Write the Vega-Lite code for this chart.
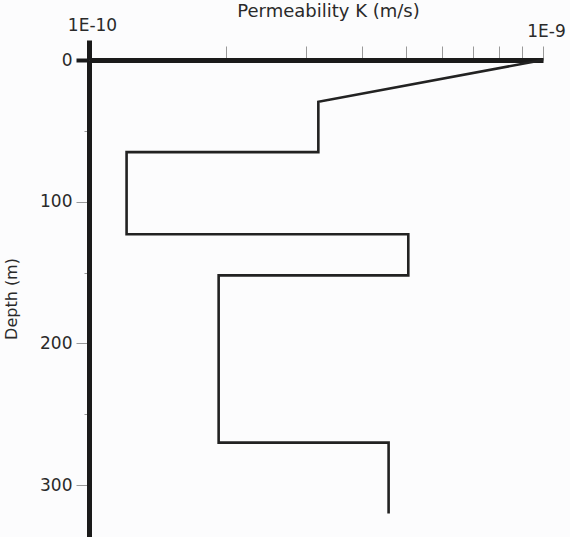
{
  "$schema": "https://vega.github.io/schema/vega-lite/v6.json",
  "autosize": "none",
  "width": 454,
  "height": 477,
  "padding": {"left": 89, "top": 60, "right": 27, "bottom": 0},
  "background": "#fcfcfd",
  "config": {"view": {"stroke": null}, "font": "DejaVu Sans"},
  "data": {
    "values": [
      {"step": 1, "K": 1e-9, "depth": 0},
      {"step": 2, "K": 3.2e-10, "depth": 29.5},
      {"step": 3, "K": 3.2e-10, "depth": 65},
      {"step": 4, "K": 1.21e-10, "depth": 65},
      {"step": 5, "K": 1.21e-10, "depth": 123},
      {"step": 6, "K": 5.05e-10, "depth": 123},
      {"step": 7, "K": 5.05e-10, "depth": 152},
      {"step": 8, "K": 1.93e-10, "depth": 152},
      {"step": 9, "K": 1.93e-10, "depth": 270},
      {"step": 10, "K": 4.57e-10, "depth": 270},
      {"step": 11, "K": 4.57e-10, "depth": 320}
    ]
  },
  "mark": {"type": "line", "color": "#222222", "strokeWidth": 2.6, "strokeJoin": "miter", "clip": false},
  "encoding": {
    "order": {"field": "step", "type": "quantitative"},
    "x": {
      "field": "K",
      "type": "quantitative",
      "scale": {"type": "log", "domain": [1e-10, 1e-9], "nice": false},
      "axis": {
        "orient": "top",
        "title": "Permeability K (m/s)",
        "titleFontSize": 18,
        "titleFontWeight": "normal",
        "titleColor": "#2a2a2a",
        "titleX": 239,
        "titleY": -44,
        "titleAlign": "center",
        "titleBaseline": "alphabetic",
        "values": [1e-10, 2e-10, 3e-10, 4e-10, 5e-10, 6e-10, 7e-10, 8e-10, 9e-10, 1e-9],
        "labelExpr": "datum.value < 1.5e-10 ? '1E-10' : (datum.value > 9.5e-10 ? '1E-9' : '')",
        "labelFontSize": 17,
        "labelColor": "#2a2a2a",
        "labelPadding": 6,
        "labelOffset": 3,
        "labelFlush": false,
        "grid": false,
        "domainWidth": 5,
        "domainColor": "#1a1a1a",
        "tickSize": {"condition": {"test": "datum.value < 1.5e-10", "value": 20}, "value": 14},
        "tickWidth": {"condition": {"test": "datum.value < 1.5e-10", "value": 5}, "value": 1},
        "tickColor": {"condition": {"test": "datum.value < 1.5e-10", "value": "#1a1a1a"}, "value": "#999999"}
      }
    },
    "y": {
      "field": "depth",
      "type": "quantitative",
      "scale": {"domain": [0, 336.6], "reverse": true, "nice": false},
      "axis": {
        "title": "Depth (m)",
        "titleFontSize": 16,
        "titleFontWeight": "normal",
        "titleColor": "#2a2a2a",
        "titleX": -78,
        "titleBaseline": "middle",
        "values": [0, 50, 100, 150, 200, 250, 300],
        "labelExpr": "datum.value % 100 === 0 ? datum.label : ''",
        "labelFontSize": 17,
        "labelColor": "#2a2a2a",
        "labelPadding": 4,
        "labelFlush": false,
        "grid": false,
        "domainWidth": 5,
        "domainColor": "#1a1a1a",
        "tickSize": {"condition": {"test": "datum.value % 100 === 0", "value": 13}, "value": 5},
        "tickWidth": {"condition": {"test": "datum.value === 0", "value": 4}, "value": 1},
        "tickColor": {"condition": {"test": "datum.value === 0", "value": "#1a1a1a"}, "value": "#999999"}
      }
    }
  }
}
